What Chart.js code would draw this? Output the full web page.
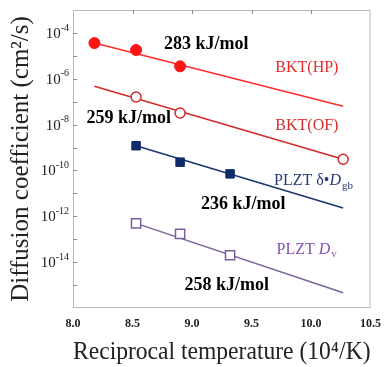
<!DOCTYPE html>
<html>
<head>
<meta charset="utf-8">
<script src="https://cdn.jsdelivr.net/npm/chart.js@4/dist/chart.umd.min.js"></script>
<style>
  html, body { margin: 0; padding: 0; background: #fff; }
  #wrap { width: 390px; height: 367px; }
</style>
</head>
<body>
<div id="wrap"><canvas id="chart"></canvas></div>
<script>
// values (x = 10^4/T, y = D in cm2/s)
const hpX = [8.18, 8.53, 8.90]
const hpD = [3.6e-5, 1.8e-5, 3.5e-6]
const hpFitX = [8.18, 10.27]
const hpFitD = [3.6e-5, 6.3e-8]

const ofX = [8.53, 8.90, 10.27]
const ofD = [1.6e-7, 3.2e-8, 3.1e-10]
const ofFitX = [8.18, 10.27]
const ofFitD = [4.7e-7, 3.1e-10]

const gbX = [8.53, 8.90, 9.32]
const gbD = [1.2e-9, 2.3e-10, 7.1e-11]
const gbFitX = [8.53, 10.27]
const gbFitD = [1.2e-9, 2.3e-12]

const dvX = [8.53, 8.90, 9.32]
const dvD = [4.9e-13, 1.7e-13, 2.0e-14]
const dvFitX = [8.53, 10.27]
const dvFitD = [4.9e-13, 4.6e-16]

const xTicks = [8.0, 8.5, 9.0, 9.5, 10.0, 10.5]
const yLabelExps = [-4, -6, -8, -10, -12, -14]
const yMinorExps = [-4, -5, -6, -7, -8, -9, -10, -11, -12, -13, -14, -15]

// text notes, anchored in data units (left edge, log10 of y)
const notes = [
    { x: 8.765, ly: -4.48, color: "#000", bold: true, parts: [["283 kJ/mol"]] },
    { x: 8.114, ly: -7.72, color: "#000", bold: true, parts: [["259 kJ/mol"]] },
    { x: 9.075, ly: -11.49, color: "#000", bold: true, parts: [["236 kJ/mol"]] },
    { x: 8.936, ly: -15.0, color: "#000", bold: true, parts: [["258 kJ/mol"]] },
    { x: 9.70, ly: -5.52, color: "#e82a2a", parts: [["BKT(HP)"]] },
    { x: 9.70, ly: -8.07, color: "#d22c2c", parts: [["BKT(OF)"]] },
    { x: 9.69, ly: -10.45, color: "#253a78", parts: [["PLZT δ•"], ["D", "i"], ["gb", "s"]] },
    { x: 9.71, ly: -13.44, color: "#8451b8", parts: [["PLZT "], ["D", "i"], ["v", "s"]] }
]

const pts = (xs, ys) => xs.map((x, i) => ({ x: x, y: ys[i] }))
const serif = "'Liberation Serif', 'DejaVu Serif', serif"

const framePlugin = {
    id: "frame",
    afterDraw(chart) {
        const ctx = chart.ctx
        const a = chart.chartArea
        const xs = chart.scales.x
        const ys = chart.scales.y
        ctx.save()
        ctx.strokeStyle = "#b9b9b9"
        ctx.lineWidth = 1
        ctx.strokeRect(a.left + 0.5, a.top + 0.5, a.right - a.left - 1, a.bottom - a.top - 1)

        ctx.strokeStyle = "#8a8a8a"
        ctx.beginPath()
        yMinorExps.forEach(e => {
            const y = Math.round(ys.getPixelForValue(Math.pow(10, e))) + 0.5
            ctx.moveTo(a.left, y)
            ctx.lineTo(a.left + 4, y)
        })
        xTicks.slice(1, -1).forEach(v => {
            const x = Math.round(xs.getPixelForValue(v)) + 0.5
            ctx.moveTo(x, a.top)
            ctx.lineTo(x, a.top + 4)
        })
        ctx.stroke()

        // y labels 10^n
        ctx.fillStyle = "#222"
        ctx.textBaseline = "middle"
        yLabelExps.forEach(e => {
            const y = ys.getPixelForValue(Math.pow(10, e))
            const exp = String(e)
            ctx.font = "10px " + serif
            const ew = ctx.measureText(exp).width
            const right = a.left - 4
            ctx.textAlign = "right"
            ctx.fillText(exp, right, y - 5)
            ctx.font = "15px " + serif
            ctx.fillText("10", right - ew, y + 1)
        })

        // notes
        ctx.textAlign = "left"
        notes.forEach(n => {
            let x = xs.getPixelForValue(n.x)
            const y = ys.getPixelForValue(Math.pow(10, n.ly))
            ctx.fillStyle = n.color
            n.parts.forEach(p => {
                const sub = p[1] == "s"
                const size = sub ? 11 : (n.bold ? 18 : 16)
                ctx.font = (p[1] == "i" ? "italic " : "") + (n.bold ? "bold " : "") + size + "px " + serif
                ctx.fillText(p[0], x, sub ? y + 5 : y)
                x += ctx.measureText(p[0]).width + (p[1] == "i" ? 1 : 0)
            })
        })
        ctx.restore()
    }
}

new Chart("chart", {
    type: "scatter",
    data: {
        datasets: [
            {
                data: pts(hpX, hpD),
                pointStyle: "circle",
                pointRadius: 5.5,
                backgroundColor: "#ff1414",
                borderColor: "#ff1414",
                borderWidth: 1
            },
            {
                data: pts(ofX, ofD),
                pointStyle: "circle",
                pointRadius: 5,
                backgroundColor: "#fff",
                borderColor: "#d42828",
                borderWidth: 1.5
            },
            {
                data: pts(gbX, gbD),
                pointStyle: "rect",
                pointRadius: 6,
                backgroundColor: "#0f2b6b",
                borderColor: "#0f2b6b",
                borderWidth: 1
            },
            {
                data: pts(dvX, dvD),
                pointStyle: "rect",
                pointRadius: 6.5,
                backgroundColor: "#fff",
                borderColor: "#7c5e9e",
                borderWidth: 1.5
            },
            {
                data: pts(hpFitX, hpFitD),
                showLine: true,
                pointRadius: 0,
                borderColor: "#ff2c2c",
                borderWidth: 1.5
            },
            {
                data: pts(ofFitX, ofFitD),
                showLine: true,
                pointRadius: 0,
                borderColor: "#d42a2a",
                borderWidth: 1.5
            },
            {
                data: pts(gbFitX, gbFitD),
                showLine: true,
                pointRadius: 0,
                borderColor: "#1b3572",
                borderWidth: 1.5
            },
            {
                data: pts(dvFitX, dvFitD),
                showLine: true,
                pointRadius: 0,
                borderColor: "#7d6399",
                borderWidth: 1.5
            }
        ]
    },
    options: {
        responsive: true,
        maintainAspectRatio: false,
        animation: false,
        layout: { padding: { top: 10, right: 11, left: 0, bottom: 0 } },
        plugins: {
            legend: { display: false },
            tooltip: { enabled: false }
        },
        scales: {
            x: {
                type: "linear",
                min: 8.0,
                max: 10.5,
                afterBuildTicks: s => { s.ticks = xTicks.map(v => ({ value: v })) },
                afterFit: s => { s.height = 59 },
                grid: { display: false, drawTicks: false },
                border: { display: false },
                ticks: {
                    padding: 9,
                    color: "#222",
                    font: { family: serif, size: 12, weight: "bold" },
                    callback: v => v.toFixed(1)
                },
                title: {
                    display: true,
                    text: "Reciprocal temperature (10⁴/K)",
                    color: "#222",
                    font: { family: serif, size: 25 },
                    padding: { top: 0, bottom: 0 }
                }
            },
            y: {
                type: "logarithmic",
                min: 1e-16,
                max: 1e-3,
                afterFit: s => { s.width = 73 },
                grid: { display: false, drawTicks: false },
                border: { display: false },
                ticks: { display: false },
                title: {
                    display: true,
                    text: "Diffusion coefficient (cm²/s)",
                    color: "#222",
                    font: { family: serif, size: 25 },
                    padding: { top: 6, bottom: 0 }
                }
            }
        }
    },
    plugins: [framePlugin]
})
</script>
</body>
</html>
